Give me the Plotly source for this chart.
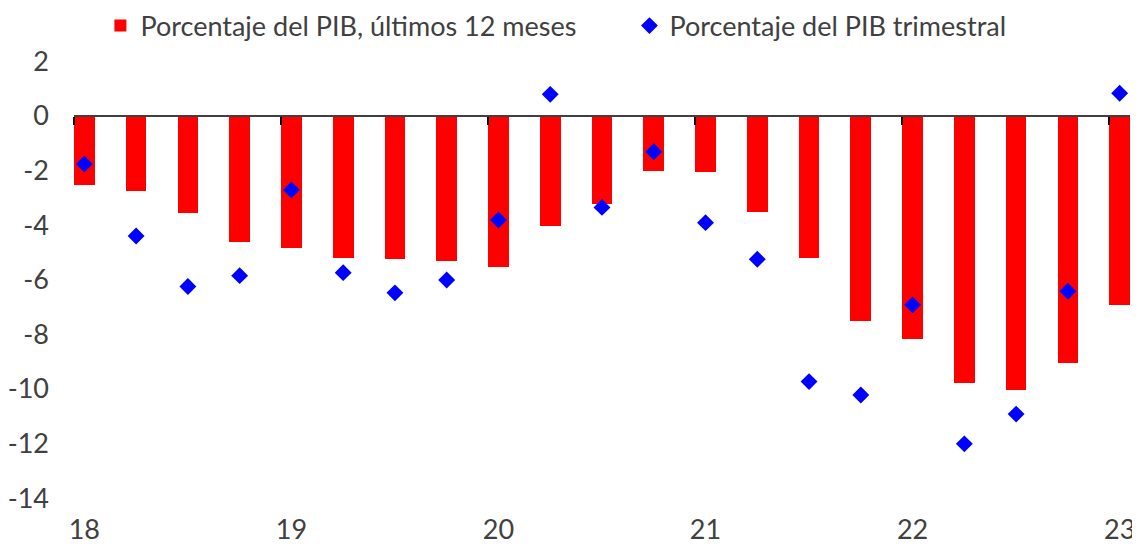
import plotly.graph_objects as go

# Data (quarters from 2018Q1 to 2023Q1)
quarters = list(range(21))
year_labels = ["18", "19", "20", "21", "22", "23"]
year_pos = [0, 4, 8, 12, 16, 20]
y_ticks = [2, 0, -2, -4, -6, -8, -10, -12, -14]
y_ticktext = ["2", "0", "-2", "-4", "-6", "-8", "-10", "-12", "-14"]
pib_12m = [-2.53, -2.75, -3.56, -4.62, -4.85, -5.19, -5.25, -5.31, -5.54, -4.03,
           -3.22, -2.00, -2.06, -3.52, -5.19, -7.52, -8.17, -9.79, -10.04, -9.04, -6.92]
pib_trim = [-1.76, -4.40, -6.25, -5.85, -2.71, -5.74, -6.48, -6.01, -3.81, 0.79,
            -3.35, -1.31, -3.91, -5.25, -9.73, -10.22, -6.92, -12.01, -10.92, -6.42, 0.83]

bar_width = 0.4
ymin, ymax = -14.25, 2.78
xmin, xmax = -bar_width / 2, quarters[-1] + bar_width / 2
zero_pos = (0 - ymin) / (ymax - ymin)
tick_pos = [p - bar_width / 2 for p in year_pos]

txt = "#404040"
font_family = "Lato, 'Open Sans', sans-serif"

fig = go.Figure()
fig.add_trace(go.Bar(
    x=quarters, y=pib_12m, width=bar_width,
    marker=dict(color="#FF0000", line=dict(width=0)),
    name="Porcentaje del PIB, últimos 12 meses",
    xaxis="x", yaxis="y", legend="legend",
))
fig.add_trace(go.Scatter(
    x=quarters, y=pib_trim, mode="markers",
    marker=dict(symbol="diamond", color="#0000FF", size=13, line=dict(width=0)),
    name="Porcentaje del PIB trimestral",
    xaxis="x2", yaxis="y", legend="legend2",
))

legend_common = dict(orientation="h", xanchor="left", y=1.030, yanchor="middle",
                     font=dict(size=27, color=txt), bgcolor="rgba(0,0,0,0)")

fig.update_layout(
    width=1132, height=544,
    margin=dict(l=66, r=10, t=32, b=47, autoexpand=False),
    paper_bgcolor="white", plot_bgcolor="white",
    font=dict(family=font_family, size=26, color=txt),
    showlegend=True,
    legend=dict(x=0.025, **legend_common),
    legend2=dict(x=0.526, **legend_common),
    xaxis=dict(range=[xmin, xmax], tickmode="array", tickvals=year_pos, ticktext=year_labels,
               showgrid=False, zeroline=False, showline=False, ticks="", automargin=False,
               ticklabelstandoff=6, tickfont=dict(size=27, color=txt)),
    xaxis2=dict(range=[xmin, xmax], overlaying="x", matches="x", anchor="free", position=zero_pos,
                side="bottom", showgrid=False, zeroline=False, showline=True, automargin=False,
                linecolor="#404040", linewidth=2, ticks="outside", ticklen=8, tickwidth=1.5,
                tickcolor="#000000", tickmode="array", tickvals=tick_pos, showticklabels=False),
    yaxis=dict(range=[ymin, ymax], tickmode="array", tickvals=y_ticks, ticktext=y_ticktext,
               showgrid=False, zeroline=False, showline=False, ticks="", automargin=False,
               ticklabelstandoff=24, tickfont=dict(size=27, color=txt)),
    bargap=0,
)

fig.write_html("out.html")
